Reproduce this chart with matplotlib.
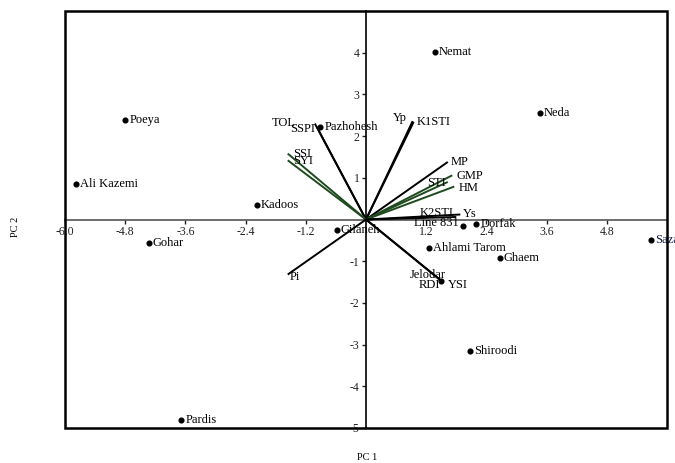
import matplotlib
matplotlib.use("Agg")
import matplotlib.pyplot as plt
from matplotlib.patches import Rectangle

# Genotype scores
genotypes = ["Poeya", "Ali Kazemi", "Kadoos", "Pazhohesh", "Nemat", "Neda", "Dorfak",
             "Line 831", "Gilaneh", "Ahlami Tarom", "Ghaem", "Sazandegi", "Jelodar",
             "Shiroodi", "Gohar", "Pardis"]
geno_pc1 = [-4.80, -5.79, -2.17, -0.91, 1.37, 3.47, 2.20, 1.93, -0.58, 1.25, 2.67, 5.69,
            1.50, 2.07, -4.33, -3.68]
geno_pc2 = [2.38, 0.86, 0.35, 2.22, 4.02, 2.56, -0.11, -0.16, -0.26, -0.69, -0.93, -0.48,
            -1.47, -3.15, -0.57, -4.81]

# Trait vectors
traits = ["TOL", "SSPI", "SSI", "SYI", "Yp", "K1STI", "MP", "GMP", "STI", "HM",
          "K2STI", "Ys", "Pi", "RDI", "YSI"]
trait_pc1 = [-1.02, -0.98, -1.56, -1.56, 0.93, 0.95, 1.63, 1.72, 1.63, 1.76,
             1.88, 1.80, -1.56, 1.50, 1.52]
trait_pc2 = [2.30, 2.22, 1.58, 1.42, 2.36, 2.34, 1.38, 1.06, 0.90, 0.79,
             0.12, 0.06, -1.32, -1.47, -1.49]

xticks = [-6.0, -4.8, -3.6, -2.4, -1.2, 1.2, 2.4, 3.6, 4.8]
yticks = [-5, -4, -3, -2, -1, 1, 2, 3, 4]

# layout / style (label offsets in pixels, alignment)
trait_style = {
    "TOL": (-19, 1, "right", "black"), "SSPI": (-2, -2, "right", "black"),
    "SSI": (5, 0, "left", "#1e4a1e"), "SYI": (5, -1, "left", "#1e4a1e"),
    "Yp": (-6, 3, "right", "black"), "K1STI": (3, 0, "left", "black"),
    "MP": (3, 0, "left", "black"), "GMP": (4, -1, "left", "#1e4a1e"),
    "STI": (-2, -1, "right", "#1e4a1e"), "HM": (4, -1, "left", "#1e4a1e"),
    "K2STI": (-7, 1, "right", "black"), "Ys": (7, 3, "left", "black"),
    "Pi": (2, -2, "left", "black"), "RDI": (-1, -4, "right", "black"),
    "YSI": (6, -3, "left", "black"),
}
geno_style = {"Line 831": (-4, 3, "right"), "Jelodar": (5, 6, "right")}

serif = ["Liberation Serif", "DejaVu Serif"]
plt.rcParams["font.family"] = serif

fig = plt.figure(figsize=(6.75, 4.63), dpi=100)
ax = fig.add_axes([65 / 675, 1 - 428 / 463, 602 / 675, 417 / 463])
ax.set_xlim(-6, 6)
ax.set_ylim(-5, 5)

# spines through origin
for s in ["top", "right"]:
    ax.spines[s].set_visible(False)
ax.spines["left"].set_position(("data", 0))
ax.spines["bottom"].set_position(("data", 0))
ax.spines["left"].set_color("black")
ax.spines["left"].set_linewidth(1.2)
ax.spines["bottom"].set_color("#555555")
ax.spines["bottom"].set_linewidth(1.2)
ax.set_xticks(xticks)
ax.set_xticklabels([f"{t:.1f}" for t in xticks])
ax.set_yticks(yticks)
ax.set_yticklabels([str(t) for t in yticks])
ax.tick_params(axis="both", direction="out", length=3, width=1, labelsize=8.5,
               pad=1.5, colors="#222222")
ax.patch.set_visible(False)

# outer frame
ax.add_patch(Rectangle((0, 0), 1, 1, transform=ax.transAxes, fill=False,
                       edgecolor="black", linewidth=1.8, clip_on=False, zorder=5))

# vectors
for name, x, y in zip(traits, trait_pc1, trait_pc2):
    dx, dy, ha, col = trait_style[name]
    ax.plot([0, x], [0, y], color=col, linewidth=1.4, solid_capstyle="butt", zorder=3)
    ax.annotate(name, (x, y), xytext=(dx, dy), textcoords="offset pixels",
                ha=ha, va="center", fontsize=9, color="black", zorder=4)

# genotypes
ax.plot(geno_pc1, geno_pc2, "o", color="black", markersize=3.4, linestyle="none", zorder=4)
for name, x, y in zip(genotypes, geno_pc1, geno_pc2):
    dx, dy, ha = geno_style.get(name, (4, 0, "left"))
    col = "#1a1a4a" if name == "Sazandegi" else "black"
    ax.annotate(name, (x, y), xytext=(dx, dy), textcoords="offset pixels",
                ha=ha, va="center", fontsize=9, color=col, annotation_clip=False,
                zorder=4)

fig.text(367 / 675, 1 - 457 / 463, "PC 1", ha="center", va="center", fontsize=7.5)
fig.text(15 / 675, 1 - 227 / 463, "PC 2", ha="center", va="center", fontsize=7.5,
         rotation=90)

fig.savefig("out.png", dpi=100)
